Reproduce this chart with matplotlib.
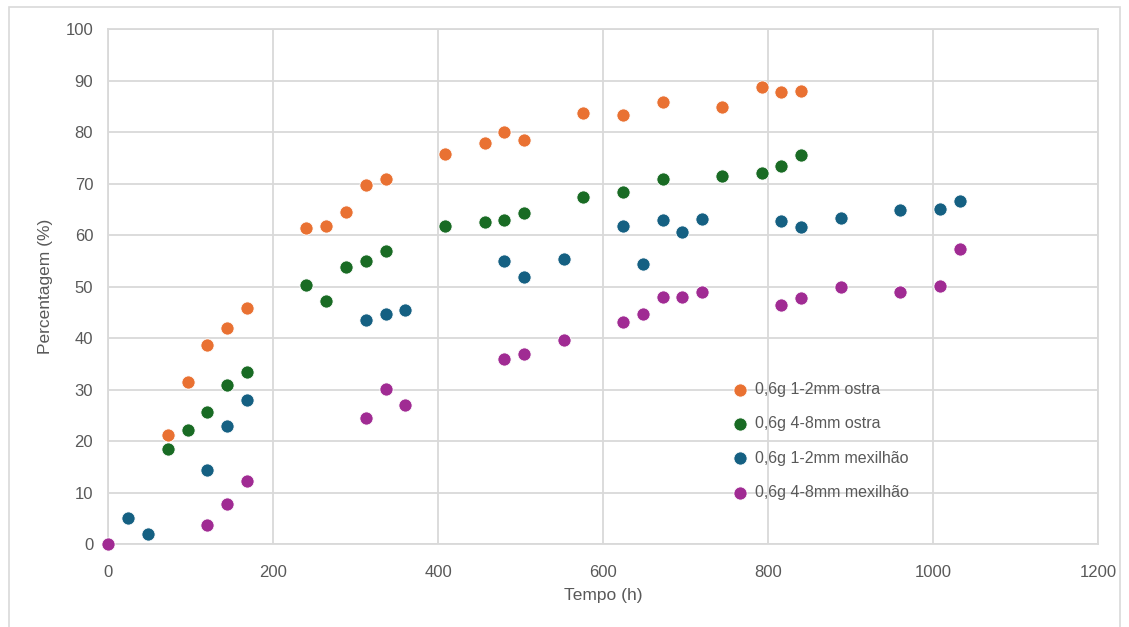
import numpy as np
import matplotlib.pyplot as plt
from matplotlib.patches import Rectangle

plt.rcParams['font.family'] = ['Liberation Sans', 'DejaVu Sans']

# Tempo (h) e percentagem para cada ensaio
t_ostra_12 = [72, 96, 120, 144, 168, 240, 264, 288, 312, 336, 408, 456, 480, 504,
              576, 624, 672, 744, 792, 816, 840]
p_ostra_12 = [21.2, 31.5, 38.7, 41.9, 45.8, 61.3, 61.7, 64.5, 69.8, 70.9, 75.8, 77.9, 80.0, 78.5,
              83.7, 83.4, 85.8, 84.9, 88.8, 87.7, 87.9]

t_ostra_48 = [72, 96, 120, 144, 168, 240, 264, 288, 312, 336, 408, 456, 480, 504,
              576, 624, 672, 744, 792, 816, 840]
p_ostra_48 = [18.5, 22.1, 25.7, 31.0, 33.5, 50.4, 47.2, 53.8, 55.0, 56.9, 61.7, 62.5, 63.0, 64.3,
              67.4, 68.3, 70.9, 71.5, 72.0, 73.4, 75.6]

t_mex_12 = [24, 48, 120, 144, 168, 312, 336, 360, 480, 504, 552, 624, 648, 672, 696, 720,
            816, 840, 888, 960, 1008, 1032]
p_mex_12 = [5.2, 2.0, 14.4, 22.9, 28.0, 43.6, 44.6, 45.4, 55.0, 51.9, 55.3, 61.7, 54.4, 63.0, 60.6, 63.2,
            62.8, 61.6, 63.4, 64.8, 65.0, 66.7]

t_mex_48 = [0, 120, 144, 168, 312, 336, 360, 480, 504, 552, 624, 648, 672, 696, 720,
            816, 840, 888, 960, 1008, 1032]
p_mex_48 = [0.0, 3.7, 7.8, 12.3, 24.6, 30.1, 27.0, 35.9, 37.0, 39.6, 43.1, 44.7, 48.0, 48.0, 48.9,
            46.4, 47.8, 49.9, 48.9, 50.2, 57.3]

labels = ['0,6g 1-2mm ostra', '0,6g 4-8mm ostra', '0,6g 1-2mm mexilhão', '0,6g 4-8mm mexilhão']
colors = ['#E97132', '#196B24', '#156082', '#A02B93']

fig = plt.figure(figsize=(11.29, 6.27), dpi=100)
ax = fig.add_axes([0.0961, 0.1319, 0.8765, 0.8218])

series = [(t_ostra_12, p_ostra_12), (t_ostra_48, p_ostra_48),
          (t_mex_12, p_mex_12), (t_mex_48, p_mex_48)]
for (t, p), lab, c in zip(series, labels, colors):
    ax.scatter(t, p, s=90, color=c, edgecolors='white', linewidths=0.6,
               label=lab, zorder=3, clip_on=False)

ax.set_xlim(0, 1200)
ax.set_ylim(0, 100)
ax.set_xticks(np.arange(0, 1201, 200))
ax.set_yticks(np.arange(0, 101, 10))
ax.grid(True, color='#d9d9d9', linewidth=1.3)
ax.set_axisbelow(True)
for s in ax.spines.values():
    s.set_color('#d9d9d9')
    s.set_linewidth(1.3)
ax.tick_params(length=0, colors='#595959', labelsize=12)
ax.tick_params(axis='x', pad=15)
ax.tick_params(axis='y', pad=11)

ax.set_xlabel('Tempo (h)', fontsize=12.5, color='#595959', labelpad=6)
ax.set_ylabel('Percentagem (%)', fontsize=12.5, color='#595959', labelpad=9)

leg = ax.legend(loc='upper left', bbox_to_anchor=(0.616, 0.327), frameon=False,
                fontsize=11.5, labelspacing=1.2, handletextpad=-0.1,
                borderaxespad=0, scatterpoints=1)
for txt in leg.get_texts():
    txt.set_color('#595959')

# moldura exterior
fig.patches.append(Rectangle((9 / 1129, -0.02), 1111 / 1129, 1.009, transform=fig.transFigure,
                             fill=False, edgecolor='#d9d9d9', linewidth=1.2))

fig.savefig('out.png', dpi=100)
